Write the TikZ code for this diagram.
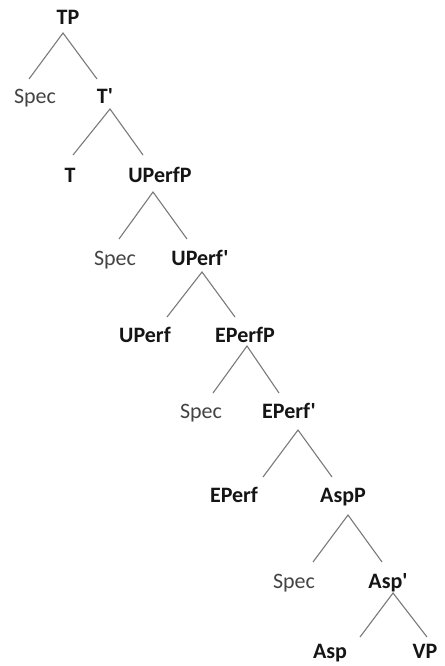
\documentclass[tikz,border=0pt]{standalone}
\usepackage{fontspec}
% no TeX ligature mapping, so ' stays a straight prime
\setmainfont{Carlito}[Ligatures=TeXOff]
\definecolor{branchgray}{HTML}{7A7A7A}
\definecolor{specgray}{HTML}{444444}
\definecolor{headblack}{HTML}{151515}
\begin{document}
\begin{tikzpicture}[x=1pt,y=-1pt,
  cat/.style={anchor=base, inner sep=0pt, text=headblack,
    font=\fontsize{22}{22}\selectfont\bfseries},
  specnode/.style={anchor=base, inner sep=0pt, text=specgray,
    font=\fontsize{22}{22}\selectfont},
  branch/.style={draw=branchgray, line width=1.1pt}]
\useasboundingbox[fill=white] (0,0) rectangle (444,666);

% labels (placed on their baselines)
\node[cat]      (TP)     at (68,25)   {TP};
\node[specnode] (spec1)  at (35,103)  {Spec};
\node[cat]      (Tbar)   at (105,103) {T'};
\node[cat]      (T)      at (70,182)  {T};
\node[cat]      (UPerfP) at (160,182) {UPerfP};
\node[specnode] (spec2)  at (115,265) {Spec};
\node[cat]      (UPerfb) at (200,265) {UPerf'};
\node[cat]      (UPerf)  at (145,342) {UPerf};
\node[cat]      (EPerfP) at (245,342) {EPerfP};
\node[specnode] (spec3)  at (201,418) {Spec};
\node[cat]      (EPerfb) at (289,418) {EPerf'};
\node[cat]      (EPerf)  at (234,502) {EPerf};
\node[cat]      (AspP)   at (343,502) {AspP};
\node[specnode] (spec4)  at (294,588) {Spec};
\node[cat]      (Aspb)   at (388,588) {Asp'};
\node[cat]      (Asp)    at (330,658) {Asp};
\node[cat]      (VP)     at (425,658) {VP};

% branching points: apex under each mother, ends above each daughter
\coordinate (TP-a)     at (63,33);
\coordinate (spec1-e)  at (29,79);
\coordinate (Tbar-e)   at (97,79);
\coordinate (Tbar-a)   at (110,109);
\coordinate (T-e)      at (73,155);
\coordinate (UPerfP-e) at (143,155);
\coordinate (UPerfP-a) at (153,192);
\coordinate (spec2-e)  at (119,239);
\coordinate (UPerfb-e) at (187,239);
\coordinate (UPerfb-a) at (202,272);
\coordinate (UPerf-e)  at (167,317);
\coordinate (EPerfP-e) at (235,317);
\coordinate (EPerfP-a) at (247,346);
\coordinate (spec3-e)  at (213,393);
\coordinate (EPerfb-e) at (279,393);
\coordinate (EPerfb-a) at (298,430);
\coordinate (EPerf-e)  at (263,477);
\coordinate (AspP-e)   at (332,477);
\coordinate (AspP-a)   at (348,515);
\coordinate (spec4-e)  at (313,562);
\coordinate (Aspb-e)   at (382,562);
\coordinate (Aspb-a)   at (393,593);
\coordinate (Asp-e)    at (360,637);
\coordinate (VP-e)     at (427,637);

% branches
\path[branch] (spec1-e)  -- (TP-a)     -- (Tbar-e);
\path[branch] (T-e)      -- (Tbar-a)   -- (UPerfP-e);
\path[branch] (spec2-e)  -- (UPerfP-a) -- (UPerfb-e);
\path[branch] (UPerf-e)  -- (UPerfb-a) -- (EPerfP-e);
\path[branch] (spec3-e)  -- (EPerfP-a) -- (EPerfb-e);
\path[branch] (EPerf-e)  -- (EPerfb-a) -- (AspP-e);
\path[branch] (spec4-e)  -- (AspP-a)   -- (Aspb-e);
\path[branch] (Asp-e)    -- (Aspb-a)   -- (VP-e);
\end{tikzpicture}
\end{document}
